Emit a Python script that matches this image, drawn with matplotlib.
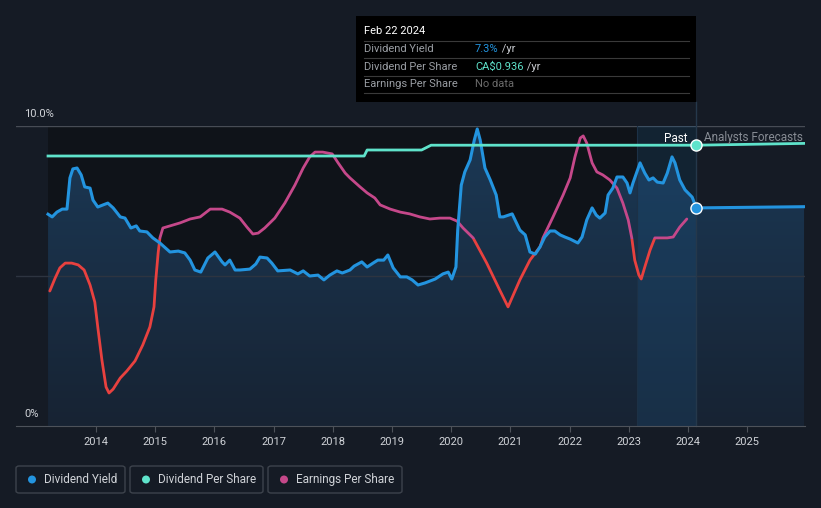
import numpy as np
import matplotlib
matplotlib.use('Agg')
import matplotlib.pyplot as plt
import matplotlib.patches as patches
from matplotlib.colors import LinearSegmentedColormap

plt.rcParams['font.family'] = ['Roboto', 'DejaVu Sans']

# dividend yield (%), decimal years
yield_t = [2013.19, 2013.26, 2013.34, 2013.43, 2013.51, 2013.56, 2013.61, 2013.68, 2013.75, 2013.81,
           2013.90, 2013.95, 2014.03, 2014.12, 2014.20, 2014.29, 2014.41, 2014.49, 2014.59, 2014.68,
           2014.74, 2014.86, 2014.96, 2015.08, 2015.25, 2015.39, 2015.50, 2015.59, 2015.67, 2015.77,
           2015.89, 2016.01, 2016.13, 2016.18, 2016.26, 2016.35, 2016.43, 2016.60, 2016.70, 2016.77,
           2016.89, 2016.97, 2017.07, 2017.28, 2017.41, 2017.50, 2017.61, 2017.75, 2017.85, 2017.95,
           2018.07, 2018.16, 2018.29, 2018.36, 2018.49, 2018.58, 2018.68, 2018.76, 2018.86, 2018.93,
           2019.02, 2019.14, 2019.25, 2019.34, 2019.44, 2019.56, 2019.73, 2019.86, 2019.95, 2020.01,
           2020.08, 2020.11, 2020.17, 2020.23, 2020.32, 2020.39, 2020.44, 2020.49, 2020.57, 2020.66,
           2020.76, 2020.82, 2020.88, 2021.03, 2021.16, 2021.25, 2021.33, 2021.42, 2021.50, 2021.58,
           2021.67, 2021.75, 2021.84, 2021.92, 2022.01, 2022.14, 2022.21, 2022.29, 2022.38, 2022.45,
           2022.51, 2022.60, 2022.65, 2022.73, 2022.80, 2022.90, 2022.97, 2023.02, 2023.07, 2023.19,
           2023.27, 2023.34, 2023.41, 2023.48, 2023.58, 2023.65, 2023.73, 2023.78, 2023.86, 2023.95,
           2024.07, 2024.14]
yield_v = [7.06, 6.97, 7.13, 7.23, 7.23, 8.27, 8.57, 8.60, 8.37, 7.97,
           7.93, 7.53, 7.30, 7.37, 7.43, 7.27, 6.97, 6.93, 6.60, 6.67,
           6.50, 6.47, 6.27, 6.10, 5.80, 5.83, 5.77, 5.53, 5.20, 5.13,
           5.60, 5.80, 5.47, 5.37, 5.53, 5.20, 5.20, 5.23, 5.40, 5.63,
           5.60, 5.43, 5.17, 5.20, 5.07, 5.17, 5.00, 5.03, 4.87, 5.03,
           5.17, 5.10, 5.20, 5.33, 5.47, 5.30, 5.43, 5.53, 5.53, 5.70,
           5.27, 4.97, 4.97, 4.87, 4.70, 4.77, 4.90, 5.07, 5.13, 4.90,
           5.30, 6.53, 8.03, 8.47, 8.87, 9.53, 9.90, 9.53, 8.60, 8.20,
           7.70, 6.97, 6.97, 7.07, 6.53, 6.37, 5.80, 5.73, 5.97, 6.30,
           6.50, 6.50, 6.37, 6.30, 6.23, 6.10, 6.30, 6.87, 7.27, 7.03,
           6.93, 7.10, 7.70, 7.93, 8.30, 8.30, 8.10, 7.77, 8.10, 8.77,
           8.43, 8.20, 8.27, 8.13, 8.10, 8.43, 8.97, 8.77, 8.20, 7.87,
           7.63, 7.27]
fc_yield_t = [2024.14, 2025.96]
fc_yield_v = [7.27, 7.31]

# dividend per share (CA$), plotted x10 on the % scale
dps_t = [2013.19, 2018.53, 2018.58, 2019.50, 2019.66, 2024.14]
dps_v = [0.900, 0.900, 0.920, 0.920, 0.936, 0.936]
fc_dps_t = [2024.14, 2025.96]
fc_dps_v = [0.936, 0.942]

# earnings per share (scaled to chart)
eps_t = [2013.22, 2013.31, 2013.39, 2013.48, 2013.59, 2013.70, 2013.80, 2013.90, 2013.98, 2014.03,
         2014.10, 2014.17, 2014.22, 2014.29, 2014.41, 2014.52, 2014.66, 2014.79, 2014.91, 2014.98,
         2015.01, 2015.05, 2015.08, 2015.13, 2015.25, 2015.42, 2015.59, 2015.76, 2015.93, 2016.13,
         2016.26, 2016.43, 2016.55, 2016.65, 2016.74, 2016.85, 2017.02, 2017.19, 2017.36, 2017.50,
         2017.61, 2017.70, 2017.83, 2017.99, 2018.09, 2018.21, 2018.29, 2018.46, 2018.58, 2018.71,
         2018.80, 2018.97, 2019.14, 2019.30, 2019.47, 2019.64, 2019.81, 2019.98, 2020.10, 2020.20,
         2020.37, 2020.60, 2020.82, 2020.96, 2021.16, 2021.33, 2021.50, 2021.55, 2021.72, 2021.89,
         2022.01, 2022.09, 2022.18, 2022.23, 2022.29, 2022.38, 2022.46, 2022.56, 2022.68, 2022.80,
         2022.90, 2022.99, 2023.05, 2023.10, 2023.17, 2023.21, 2023.27, 2023.36, 2023.44, 2023.65,
         2023.75, 2023.86, 2023.98]
eps_v = [4.50, 4.93, 5.27, 5.43, 5.43, 5.37, 5.20, 4.70, 4.13, 3.30,
         2.20, 1.30, 1.10, 1.23, 1.60, 1.83, 2.17, 2.70, 3.30, 3.97,
         4.87, 5.77, 6.27, 6.60, 6.67, 6.77, 6.90, 6.97, 7.23, 7.23,
         7.13, 6.93, 6.63, 6.40, 6.43, 6.60, 6.93, 7.43, 8.03, 8.60,
         8.97, 9.13, 9.13, 9.07, 8.77, 8.43, 8.27, 7.97, 7.77, 7.60,
         7.37, 7.23, 7.13, 7.07, 6.97, 6.90, 6.93, 6.93, 6.83, 6.60,
         6.27, 5.43, 4.53, 3.97, 4.87, 5.53, 5.97, 6.27, 6.97, 7.70,
         8.27, 8.97, 9.60, 9.67, 9.43, 8.77, 8.47, 8.37, 8.20, 7.93,
         7.43, 6.87, 6.27, 5.53, 5.03, 4.90, 5.30, 5.87, 6.27, 6.27,
         6.30, 6.63, 6.90]
eps_threshold = 6.25

years = list(range(2014, 2026))
today = 2024.14
past_start = 2023.14

BG = '#151b25'
BLUE = '#2394df'
TEAL = '#5fe3cb'
MAGENTA = '#c5488a'
RED = '#e8413f'
TXT = '#d0d3d8'

W, H = 821, 508


def fx(x):
    return x / W


def fy(y):
    return 1 - y / H


fig = plt.figure(figsize=(W / 100, H / 100), dpi=100, facecolor=BG)
ax = fig.add_axes([fx(16), fy(426), (805 - 16) / W, 300 / H])
ax.set_facecolor(BG)
x0, x1 = 2012.649, 2025.976
ax.set_xlim(x0, x1)
ax.set_ylim(0, 10)

# darker past area
ax.add_patch(patches.Rectangle((yield_t[0], 0), today - yield_t[0], 10,
                               facecolor='#0f1319', edgecolor='none', zorder=0))

# gradient fill under dividend yield
fill_t = yield_t + fc_yield_t[1:]
fill_v = yield_v + fc_yield_v[1:]
verts = [(fill_t[0], 0)] + list(zip(fill_t, fill_v)) + [(fill_t[-1], 0)]
poly = patches.Polygon(verts, closed=True, facecolor='none', edgecolor='none')
ax.add_patch(poly)
cmap = LinearSegmentedColormap.from_list('g', ['#172333', '#1b3956'])
grad = np.linspace(0, 1, 256).reshape(-1, 1)
im = ax.imshow(grad, extent=[x0, x1, 0, 10], origin='lower', aspect='auto',
               cmap=cmap, zorder=1, interpolation='bicubic')
im.set_clip_path(poly)

# last-year highlight band
ax.axvspan(past_start, today, color='#1d5c8f', alpha=0.22, lw=0, zorder=1.5)
ax.axvline(past_start, color='#1c3146', lw=0.8, zorder=1.6)

# gridlines
ax.axhline(10, color='#474c55', lw=1, zorder=1.2)
ax.axhline(5, color='#2d3440', lw=1, zorder=1.2)

# EPS line, red below threshold, magenta above
red_line, = ax.plot(eps_t, eps_v, color=RED, lw=2, zorder=3, solid_capstyle='round')
mag_line, = ax.plot(eps_t, eps_v, color=MAGENTA, lw=2, zorder=3, solid_capstyle='round')
clip_lo = patches.Rectangle((x0, -1), x1 - x0, eps_threshold + 1, transform=ax.transData)
clip_hi = patches.Rectangle((x0, eps_threshold), x1 - x0, 20, transform=ax.transData)
red_line.set_clip_path(clip_lo)
mag_line.set_clip_path(clip_hi)

# dividend yield and DPS
ax.plot(yield_t, yield_v, color=BLUE, lw=2.2, zorder=4, solid_joinstyle='round')
ax.plot(fc_yield_t, fc_yield_v, color=BLUE, lw=2.2, zorder=4)
ax.plot(dps_t, np.array(dps_v) * 10, color=TEAL, lw=2, zorder=4)
ax.plot(fc_dps_t, np.array(fc_dps_v) * 10, color=TEAL, lw=2, zorder=4)

ax.plot([today], [yield_v[-1]], 'o', ms=8, color=BLUE, mec='white', mew=1, zorder=6)
ax.plot([today], [dps_v[-1] * 10], 'o', ms=8, color=TEAL, mec='white', mew=1, zorder=6)

# today vertical line, extends up to tooltip
ax.plot([today, today], [0, (426 - 102) / 30], color='#25384b', lw=1, zorder=1.7, clip_on=False)

ax.text(today - 0.15, 9.6, 'Past', color='white', fontsize=8.5, ha='right', va='center', zorder=7)
ax.text(today + 0.13, 9.6, 'Analysts Forecasts', color='#878c94', fontsize=8.5,
        ha='left', va='center', zorder=7)

# axes styling
for s in ['top', 'right', 'left']:
    ax.spines[s].set_visible(False)
ax.spines['bottom'].set_color('#4d525a')
ax.set_yticks([])
ax.set_xticks(years)
ax.set_xticklabels([str(y) for y in years])
ax.tick_params(axis='x', colors='#4d525a', labelcolor=TXT, labelsize=8, length=4, pad=4)

fig.text(fx(24), fy(114), '10.0%', color=TXT, fontsize=8, va='center', ha='left')
fig.text(fx(24), fy(414), '0%', color=TXT, fontsize=8, va='center', ha='left')

# tooltip
fig.add_artist(patches.Rectangle((fx(356), fy(102)), 340 / W, 86 / H, transform=fig.transFigure,
                                 facecolor='black', edgecolor='none', zorder=5))
fig.text(fx(364), fy(31), 'Feb 22 2024', color='white', fontsize=8, va='center', zorder=6)
for yy in [41, 58, 76, 93]:
    fig.add_artist(plt.Line2D([fx(364), fx(689)], [fy(yy), fy(yy)], transform=fig.transFigure,
                              color='#3a3a3a', lw=0.8, zorder=6))
rows = [('Dividend Yield', '7.3%', BLUE, ' /yr'),
        ('Dividend Per Share', r'CA\$0.936', TEAL, ' /yr'),
        ('Earnings Per Share', 'No data', '#6b6b6b', '')]
for i, (lab, val, col, suf) in enumerate(rows):
    yy = 49 + i * 17.5
    fig.text(fx(364), fy(yy), lab, color='#9a9ea4', fontsize=8, va='center', zorder=6)
    t = fig.text(fx(475), fy(yy), val, color=col, fontsize=8, va='center', zorder=6)
    if suf:
        fig.canvas.draw()
        bb = t.get_window_extent()
        fig.text(bb.x1 / W, fy(yy), suf, color='#c8cbd0', fontsize=8, va='center', zorder=6)

# legend buttons
legend = [('Dividend Yield', BLUE, 16, 125), ('Dividend Per Share', TEAL, 130, 263),
          ('Earnings Per Share', MAGENTA, 268, 402)]
for lab, col, l, r in legend:
    fig.add_artist(patches.FancyBboxPatch((fx(l), fy(493)), (r - l) / W, 27 / H,
                                          boxstyle='round,pad=0,rounding_size=0.004',
                                          transform=fig.transFigure, facecolor='none',
                                          edgecolor='#3d434c', lw=1))
    fig.add_artist(patches.Ellipse((fx(l + 16), fy(479.5)), 8 / W, 8 / H,
                                   transform=fig.transFigure, facecolor=col, edgecolor='none'))
    fig.text(fx(l + 28), fy(479.5), lab, color=TXT, fontsize=8.5, va='center', ha='left')

fig.savefig('out.png', dpi=100, facecolor=BG)
